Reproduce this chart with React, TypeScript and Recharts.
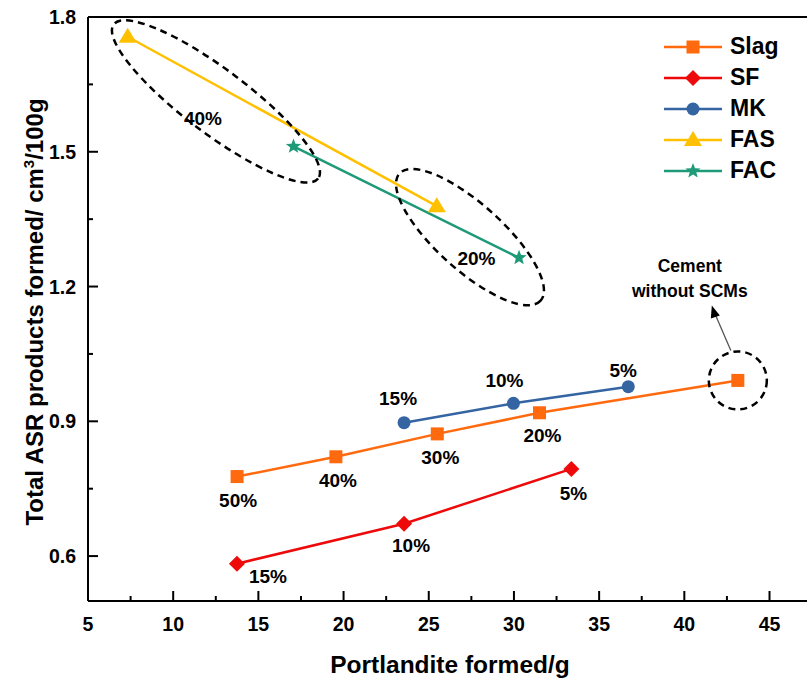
import { LineChart, Line, XAxis, YAxis, ReferenceLine, ReferenceDot } from 'recharts';

// Portlandite formed (g) vs total ASR products (cm3/100g)
const slagX = [13.75, 19.55, 25.5, 31.5, 43.14];
const slagY = [0.777, 0.821, 0.872, 0.919, 0.991];
const slagPct = ['50%', '40%', '30%', '20%', ''];

const sfX = [13.74, 23.55, 33.37];
const sfY = [0.583, 0.672, 0.794];
const sfPct = ['15%', '10%', '5%'];

const mkX = [23.55, 29.97, 36.71];
const mkY = [0.897, 0.94, 0.977];
const mkPct = ['15%', '10%', '5%'];

const fasX = [7.33, 25.47];
const fasY = [1.756, 1.379];

const facX = [17.06, 30.3];
const facY = [1.512, 1.264];

const xTicks = [5, 7.5, 10, 12.5, 15, 17.5, 20, 22.5, 25, 27.5, 30, 32.5, 35, 37.5, 40, 42.5, 45];
const yTicks = [0.6, 0.75, 0.9, 1.05, 1.2, 1.35, 1.5, 1.65, 1.8];
const yMajor = [0.6, 0.9, 1.2, 1.5, 1.8];

// label placement (px from the point)
const slagLabelPos = [[1, 30], [2, 30], [3, 30], [3, 29], [0, 0]];
const sfLabelPos = [[31, 19], [7, 28], [2, 31]];
const mkLabelPos = [[-6, -18], [-9, -16], [-5, -10]];

const font = '"Liberation Sans", Arial, Helvetica, sans-serif';

const toPoints = (xs: number[], ys: number[], pct?: string[]) =>
  xs.map((x, i) => ({ x, y: ys[i], pct: pct ? pct[i] : '' }));

type Kind = 'square' | 'diamond' | 'circle' | 'triangle' | 'star';

const Marker = ({ kind, cx, cy, color }: { kind: Kind; cx: number; cy: number; color: string }) => {
  if (kind === 'square') return <rect x={cx - 6.5} y={cy - 6.5} width={13} height={13} fill={color} />;
  if (kind === 'diamond')
    return <polygon points={`${cx},${cy - 8} ${cx + 8},${cy} ${cx},${cy + 8} ${cx - 8},${cy}`} fill={color} />;
  if (kind === 'circle') return <circle cx={cx} cy={cy} r={6.5} fill={color} />;
  if (kind === 'triangle')
    return <polygon points={`${cx},${cy - 9} ${cx + 9},${cy + 6} ${cx - 9},${cy + 6}`} fill={color} />;
  const pts: string[] = [];
  for (let i = 0; i < 10; i++) {
    const r = i % 2 === 0 ? 8 : 3.4;
    const a = (Math.PI / 5) * i - Math.PI / 2;
    pts.push(`${cx + r * Math.cos(a)},${cy + r * Math.sin(a)}`);
  }
  return <polygon points={pts.join(' ')} fill={color} />;
};

const series = [
  { name: 'Slag', color: '#FF6A0F', kind: 'square' as Kind, data: toPoints(slagX, slagY, slagPct), labelPos: slagLabelPos },
  { name: 'SF', color: '#EE0A0A', kind: 'diamond' as Kind, data: toPoints(sfX, sfY, sfPct), labelPos: sfLabelPos },
  { name: 'MK', color: '#3464A2', kind: 'circle' as Kind, data: toPoints(mkX, mkY, mkPct), labelPos: mkLabelPos },
  { name: 'FAS', color: '#FFC000', kind: 'triangle' as Kind, data: toPoints(fasX, fasY), labelPos: [] as number[][] },
  { name: 'FAC', color: '#1F9A78', kind: 'star' as Kind, data: toPoints(facX, facY), labelPos: [] as number[][] },
];

const XTick = (props: any) => {
  const { x, y, payload } = props;
  const v = payload.value;
  const major = v % 5 === 0;
  return (
    <g>
      <line x1={x} x2={x} y1={y} y2={y - (major ? 10 : 5)} stroke="#000" strokeWidth={2} />
      {major && (
        <text x={x} y={y + 30} textAnchor="middle" fontSize={19.5} fontWeight="bold" fontFamily={font} fill="#000">
          {v}
        </text>
      )}
    </g>
  );
};

const YTick = (props: any) => {
  const { x, y, payload } = props;
  const v = payload.value;
  const major = yMajor.some((m) => Math.abs(m - v) < 1e-6);
  return (
    <g>
      <line x1={x} x2={x + (major ? 10 : 5)} y1={y} y2={y} stroke="#000" strokeWidth={2} />
      {major && (
        <text x={x - 12} y={y + 7} textAnchor="end" fontSize={19.5} fontWeight="bold" fontFamily={font} fill="#000">
          {v.toFixed(1)}
        </text>
      )}
    </g>
  );
};

const pctText = (x: number, y: number, text: string) => (
  <text x={x} y={y} textAnchor="middle" fontSize={19} fontWeight="bold" fontFamily={font} fill="#000">
    {text}
  </text>
);

// dashed ellipse grouping points of the same replacement level
const groupShape = (rx: number, ry: number, angle: number, label: string, lx: number, ly: number) => (p: any) => (
  <g>
    <ellipse
      cx={p.cx}
      cy={p.cy}
      rx={rx}
      ry={ry}
      transform={`rotate(${angle} ${p.cx} ${p.cy})`}
      fill="none"
      stroke="#000"
      strokeWidth={2.5}
      strokeDasharray="7 5"
    />
    {pctText(p.cx + lx, p.cy + ly + 7, label)}
  </g>
);

const cementShape = (p: any) => (
  <g>
    <circle cx={p.cx} cy={p.cy} r={29} fill="none" stroke="#000" strokeWidth={2.5} strokeDasharray="7 5" />
    <line x1={p.cx - 7} y1={p.cy - 30} x2={p.cx - 23} y2={p.cy - 67} stroke="#555" strokeWidth={1.3} />
    <polygon
      points={`${p.cx - 26},${p.cy - 75} ${p.cx - 18},${p.cy - 65} ${p.cx - 27},${p.cy - 62}`}
      fill="#000"
    />
    <text x={p.cx - 48} y={p.cy - 108} textAnchor="middle" fontSize={17.5} fontWeight="bold" fontFamily={font} fill="#000">
      Cement
    </text>
    <text x={p.cx - 48} y={p.cy - 83} textAnchor="middle" fontSize={17.5} fontWeight="bold" fontFamily={font} fill="#000">
      without SCMs
    </text>
  </g>
);

const LegendIcon = ({ kind, color }: { kind: Kind; color: string }) => (
  <svg width={58} height={20} style={{ display: 'block' }}>
    <line x1={0} x2={58} y1={10} y2={10} stroke={color} strokeWidth={2.5} />
    <Marker kind={kind} cx={29} cy={10} color={color} />
  </svg>
);

export default function App() {
  return (
    <div style={{ position: 'absolute', left: 0, top: 0, width: 807, height: 682, background: '#fff', fontFamily: font }}>
      <LineChart width={807} height={682} margin={{ top: 17, right: 0, bottom: 0, left: 0 }}>
        <XAxis
          type="number"
          dataKey="x"
          domain={[5, 47.2]}
          ticks={xTicks}
          interval={0}
          allowDataOverflow
          height={81}
          tickSize={0}
          tickMargin={0}
          tickLine={false}
          axisLine={{ stroke: '#000', strokeWidth: 2 }}
          tick={<XTick />}
        />
        <YAxis
          type="number"
          dataKey="y"
          domain={[0.5, 1.8]}
          ticks={yTicks}
          interval={0}
          allowDataOverflow
          width={88}
          tickSize={0}
          tickMargin={0}
          tickLine={false}
          axisLine={{ stroke: '#000', strokeWidth: 2 }}
          tick={<YTick />}
        />
        <ReferenceLine y={1.8} stroke="#000" strokeWidth={2} />
        <ReferenceDot x={12.51} y={1.612} r={1} shape={groupShape(128, 32, 37, '40%', -13, 17)} />
        <ReferenceDot x={27.42} y={1.31} r={1} shape={groupShape(95, 33, 42, '20%', 6.5, 21)} />
        <ReferenceDot x={slagX[4]} y={slagY[4]} r={1} shape={cementShape} />
        {series.map((s) => (
          <Line
            key={s.name}
            data={s.data}
            dataKey="y"
            name={s.name}
            stroke={s.color}
            strokeWidth={2.5}
            isAnimationActive={false}
            dot={(p: any) => {
              const off = s.labelPos[p.index];
              return (
                <g key={`${s.name}-${p.index}`}>
                  <Marker kind={s.kind} cx={p.cx} cy={p.cy} color={s.color} />
                  {off && p.payload.pct ? pctText(p.cx + off[0], p.cy + off[1], p.payload.pct) : null}
                </g>
              );
            }}
            activeDot={false}
          />
        ))}
      </LineChart>

      <div
        style={{
          position: 'absolute',
          left: 0,
          top: 651,
          width: 900,
          textAlign: 'center',
          fontSize: 24.5,
          fontWeight: 'bold',
          lineHeight: '28px',
        }}
      >
        Portlandite formed/g
      </div>
      <div
        style={{
          position: 'absolute',
          left: 32,
          top: 312,
          transform: 'translate(-50%, -50%) rotate(-90deg)',
          whiteSpace: 'nowrap',
          fontSize: 24,
          fontWeight: 'bold',
          lineHeight: '28px',
        }}
      >
        Total ASR products formed/ cm<sup style={{ fontSize: 15, verticalAlign: 9 }}>3</sup>/100g
      </div>

      <div style={{ position: 'absolute', left: 664, top: 31 }}>
        {series.map((s) => (
          <div key={s.name} style={{ display: 'flex', alignItems: 'center', height: 31 }}>
            <LegendIcon kind={s.kind} color={s.color} />
            <span style={{ marginLeft: 8, fontSize: 23, fontWeight: 'bold', lineHeight: '31px' }}>{s.name}</span>
          </div>
        ))}
      </div>
    </div>
  );
}
